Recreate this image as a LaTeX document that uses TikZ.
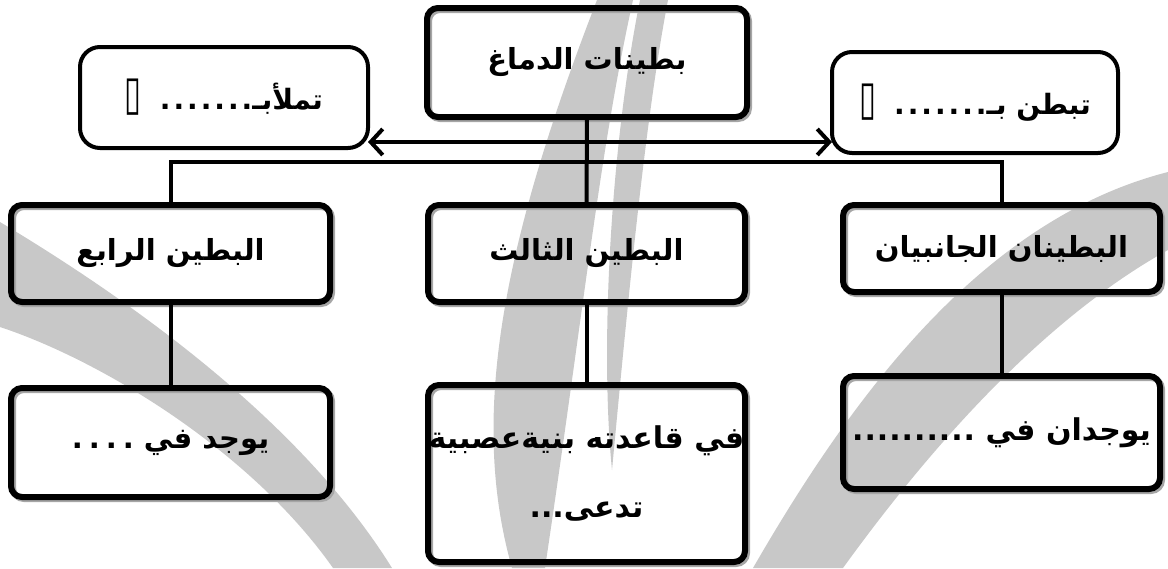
\documentclass[tikz,border=0pt]{standalone}
\usepackage{fontspec}
\newfontfamily\ar[Script=Arabic]{DejaVu Sans}
\newfontfamily\sym{DejaVu Sans}
\TeXXeTstate=1
\usetikzlibrary{arrows.meta}
\definecolor{wm}{RGB}{200,200,200}
\tikzset{
  bx/.style={draw, line width=6pt, rounded corners=11pt, outer sep=0pt, inner sep=0pt,
    align=center, font=\ar\bfseries\fontsize{29}{66}\selectfont,
    preaction={draw=black!35, line width=6pt, transform canvas={xshift=2pt,yshift=-2pt}}},
  sbx/.style={draw, line width=4pt, rounded corners=20pt, outer sep=0pt, inner sep=0pt,
    fill=white, align=center, font=\ar\bfseries\fontsize{28}{40}\selectfont},
  conn/.style={line width=4pt},
  dbl/.style={line width=4pt, {Straight Barb[length=12pt,width=26pt]}-{Straight Barb[length=12pt,width=26pt]}}
}
\newcommand{\tofu}{{\sym\mdseries\scalebox{1.1}[1.7]{▯}}}
\begin{document}
\begin{tikzpicture}[x=1pt,y=-1pt]
\useasboundingbox (0,0) rectangle (1168,568);
% watermark
\fill[wm] (0,222) .. controls (130,300) and (300,420) .. (392,568) -- (333,568)
  .. controls (250,450) and (100,360) .. (0,327) -- cycle;
\fill[wm] (597,0) -- (633,0) .. controls (600,150) and (585,300) .. (545,568) -- (512,568)
  .. controls (470,420) and (500,250) .. (597,0) -- cycle;
\fill[wm] (640,0) -- (668,0) .. controls (645,120) and (628,300) .. (612,470)
  .. controls (600,350) and (610,150) .. (640,0) -- cycle;
\fill[wm] (753,568) .. controls (850,400) and (980,220) .. (1168,172) -- (1168,250)
  .. controls (1060,310) and (950,420) .. (843,568) -- cycle;
% nodes
\node[bx, minimum width=320pt, minimum height=109pt] (T) at (587,62.5) {\beginR بطينات الدماغ\endR};
\node[sbx, minimum width=288pt, minimum height=101pt] (L) at (224,97.5) {\tofu\hspace{18pt}\beginR تملأبـ.\kern3pt.\kern3pt.\kern3pt.\kern3pt.\kern3pt.\kern3pt.\endR};
\node[sbx, minimum width=286pt, minimum height=101pt] (R) at (975,102.5) {\tofu\hspace{18pt}\beginR تبطن بـ.\kern3pt.\kern3pt.\kern3pt.\kern3pt.\kern3pt.\kern3pt.\endR};
\node[bx, minimum width=319pt, minimum height=97pt] (A4) at (170.5,253.5) {\beginR البطين الرابع\endR};
\node[bx, minimum width=317pt, minimum height=97pt] (A3) at (586.5,253.5) {\beginR البطين الثالث\endR};
\node[bx, minimum width=317pt, minimum height=87pt] (A2) at (1001.5,248.5) {\beginR البطينان الجانبيان\endR};
\node[bx, minimum width=319pt, minimum height=109pt] (B4) at (170.5,442.5) {\beginR يوجد في .\kern6pt.\kern6pt.\kern6pt.\endR};
\node[bx, minimum width=317pt, minimum height=177pt, font=\ar\bfseries\fontsize{30}{70}\selectfont] (B3) at (586.5,473.5) {\beginR في قاعدته بنيةعصبية\endR\\\beginR تدعى...\endR};
\node[bx, minimum width=317pt, minimum height=113pt, font=\ar\bfseries\fontsize{30}{66}\selectfont] (B2) at (1001.5,432.5) {\beginR يوجدان في .\kern1pt.\kern1pt.\kern1pt.\kern1pt.\kern1pt.\kern1pt.\kern1pt.\kern1pt.\kern1pt.\endR};
% connectors
\draw[dbl] (L.east |- 0,142) -- (R.west |- 0,142);
\draw[conn] (T.south) -- (A3.north);
\draw[conn] (A4.north) -- (A4.north |- 0,162) -- (A2.north |- 0,162) -- (A2.north);
\draw[conn] (A4.south) -- (B4.north);
\draw[conn] (A3.south) -- (B3.north);
\draw[conn] (A2.south) -- (B2.north);
\end{tikzpicture}
\end{document}
